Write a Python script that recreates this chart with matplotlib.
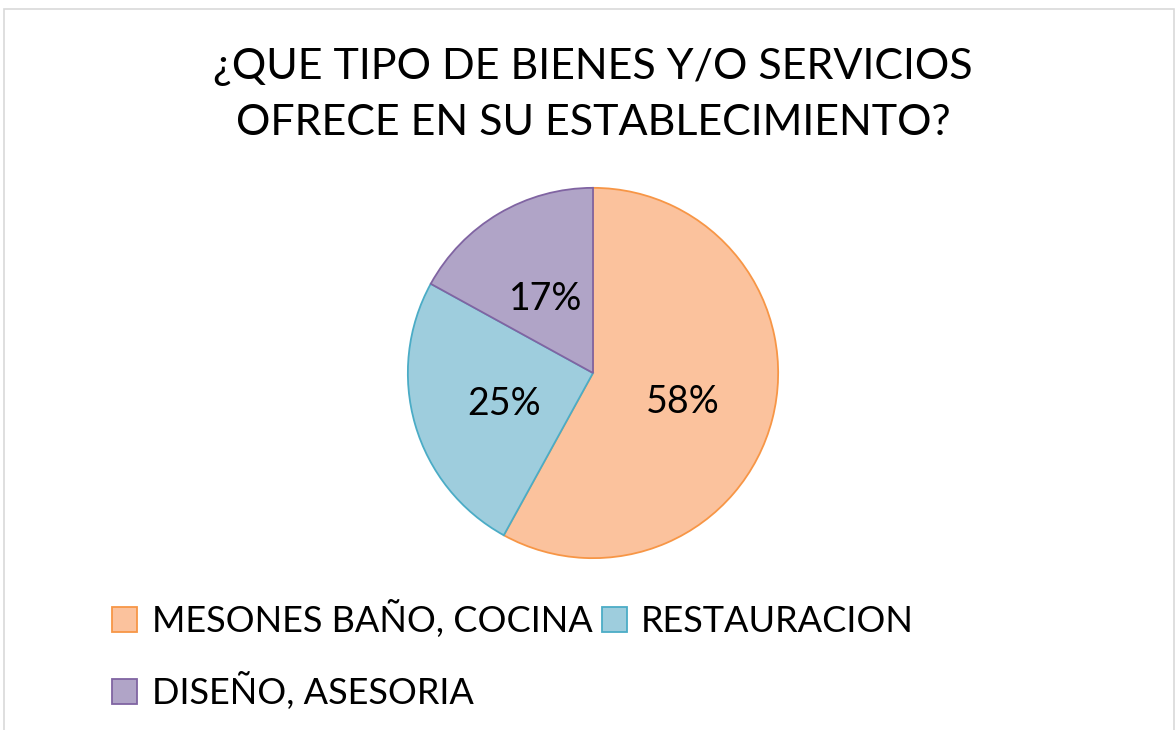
import matplotlib
matplotlib.use("Agg")
import matplotlib.pyplot as plt
from matplotlib.patches import Rectangle

plt.rcParams['font.family'] = ['Lato', 'DejaVu Sans']

# data
categories = ['MESONES BAÑO, COCINA', 'RESTAURACION', 'DISEÑO, ASESORIA']
shares = [58, 25, 17]
fills = ['#FBC29D', '#9ECDDD', '#B0A4C7']
edges = ['#F79646', '#4BACC6', '#8064A2']
title = '¿QUE TIPO DE BIENES Y/O SERVICIOS\nOFRECE EN SU ESTABLECIMIENTO?'

W, H = 1176, 730
fig = plt.figure(figsize=(W / 100, H / 100), dpi=100)

# light frame around the chart area
fig.patches.append(Rectangle((4 / W, -0.05), 1170 / W, (H - 9) / H + 0.05,
                             transform=fig.transFigure, fill=False,
                             edgecolor='#D9D9D9', linewidth=1.2))

# pie axes: center (593, 373), radius 187 px
cx, cy, r = 593, 373, 187
ax = fig.add_axes([(cx - r) / W, (H - cy - r) / H, 2 * r / W, 2 * r / H])
wedges, texts, autotexts = ax.pie(
    shares, colors=fills, startangle=90, counterclock=False,
    autopct='%d%%', pctdistance=0.5,
    wedgeprops=dict(linewidth=1.3), textprops=dict(fontsize=27, color='black'))
for w, ec in zip(wedges, edges):
    w.set_edgecolor(ec)
for t in autotexts:
    x, y = t.get_position()
    t.set_position((x, y - 0.03))
ax.set_xlim(-1.01, 1.01)
ax.set_ylim(-1.01, 1.01)
ax.set_aspect('equal')

fig.text(cx / W, 1 - 95 / H, title, ha='center', va='center', fontsize=31,
         linespacing=1.6)

# legend laid out row by row
order = [0, 2, 1]
leg = fig.legend([wedges[i] for i in order], [categories[i] for i in order],
                 ncol=2, loc='upper left', bbox_to_anchor=(112 / W, 1 - 600 / H),
                 frameon=False, fontsize=26, handlelength=0.7, handleheight=0.7,
                 handletextpad=0.4, columnspacing=0.25, labelspacing=0.95,
                 borderaxespad=0, borderpad=0)

fig.savefig('out.png', dpi=100, facecolor='white')
